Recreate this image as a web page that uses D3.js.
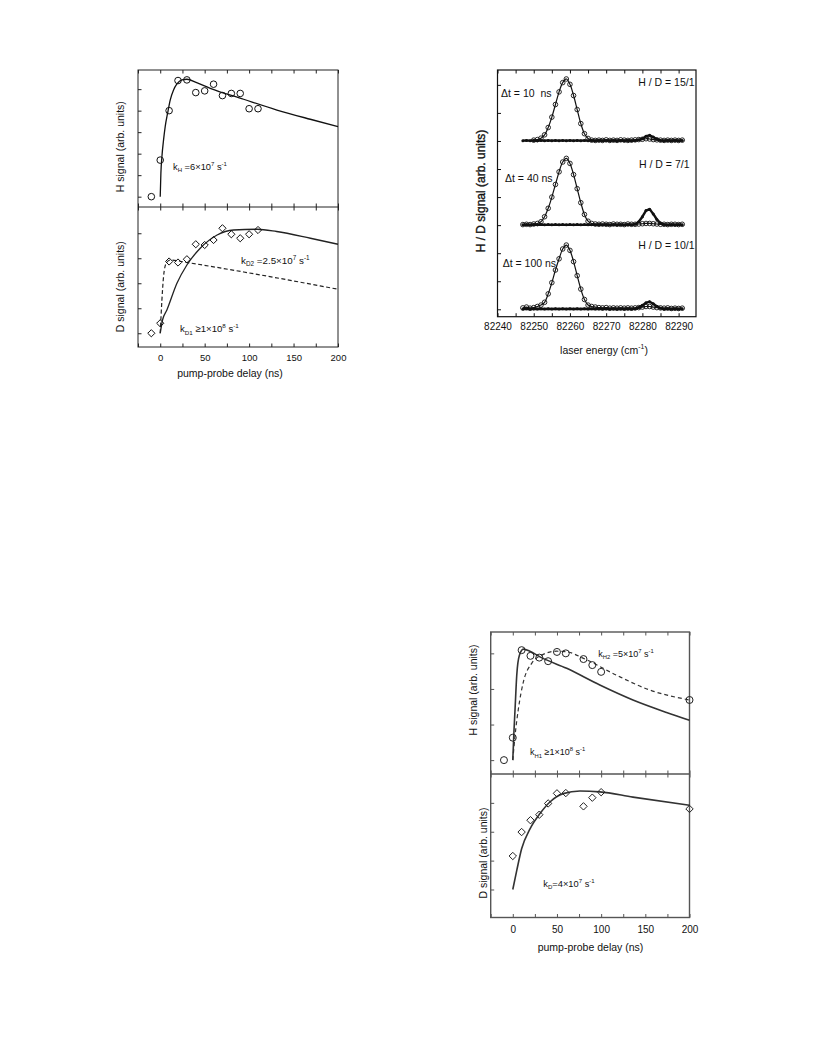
<!DOCTYPE html>
<html><head><meta charset="utf-8">
<script src="https://cdn.jsdelivr.net/npm/d3@7"></script>
<style>
body{margin:0;background:#fff}
svg{display:block}
text{font-family:"Liberation Sans",Arial,Helvetica,sans-serif;fill:#111}
</style>
</head><body>
<svg id="c" width="816" height="1056"></svg>
<script>
// ---------------- DATA ----------------
// Panel A (top-left): pump-probe delay scans
const delayTicks = [-25,0,25,50,75,100,125,150,175,200];
const delayLabels = [0,50,100,150,200];

const aHDelay  = [-10,0,10,20,30,40,50,60,70,80,90,100,110];
const aHSignal = [0,1.7,4.0,5.4,5.43,4.84,4.92,5.23,4.7,4.8,4.8,4.09,4.09];
const aHFitT   = [0,0.75,1.9,3.75,5.6,8.3,11.3,15,18.8,24.4,30,41,56.3,93.8,131.3,168.8,200];
const aHFitV   = [0,1.09,1.86,2.64,3.26,3.88,4.5,4.96,5.24,5.43,5.46,5.3,5.04,4.53,4.03,3.6,3.26];

const aDDelay  = [-10,0,10,20,30,40,50,60,70,80,90,100,110];
const aDSignal = [0,0.4,2.87,2.83,2.96,3.56,3.53,3.73,4.2,3.96,3.8,3.96,4.13];
const aDFitT   = [0,2.6,7.5,18.8,30,45,64,82.6,109,131,169,200];
const aDFitV   = [0,0.53,0.93,2.0,2.73,3.4,3.93,4.13,4.16,4.07,3.8,3.56];
const aDDashT  = [0,1.9,3.75,6.75,11.3,30,94,200];
const aDDashV  = [0,1.33,2.27,2.8,2.93,2.83,2.45,1.76];

// Panel B (top-right): laser energy scans
const energyTicks = [82240,82245,82250,82255,82260,82265,82270,82275,82280,82285,82290];
const energyLabels = [82240,82250,82260,82270,82280,82290];
const energy = [82247,82248,82249,82250,82251,82252,82253,82254,82255,82256,82257,82258,82259,82260,82261,82262,82263,82264,82265,82266,82267,82268,82269,82270,82271,82272,82273,82274,82275,82276,82277,82278,82279,82280,82281,82282,82283,82284,82285,82286,82287,82288,82289,82290,82291];
const h10 = [null,null,null,0.03,0.05,0.1,0.22,0.48,0.85,1.3,1.75,2.08,2.21,2.02,1.62,1.12,0.62,0.26,0.09,0.03,0.02,0.03,0.02,0.04,0.02,0.03,0.02,0.04,0.03,0.02,0.03,0.04,0.05,0.06,0.08,0.07,0.05,0.04,0.03,0.02,0.03,0.02,0.03,0.02,0.03];
const d10 = [0.01,0.02,0.01,0.02,0.01,0.02,0.01,0.02,0.01,0.02,0.01,0.02,0.01,0.02,0.01,0.02,0.01,0.02,0.01,0.02,0.01,0.02,0.01,0.02,0.01,0.02,0.01,0.02,0.01,0.02,0.01,0.02,0.04,0.08,0.17,0.2,0.14,0.06,0.02,0.01,0.02,0.01,0.02,0.01,0.02];
const h40 = [0.02,0.03,0.02,0.04,0.06,0.12,0.3,0.6,1.0,1.45,1.9,2.25,2.38,2.2,1.8,1.3,0.8,0.38,0.14,0.06,0.04,0.03,0.04,0.03,0.02,0.04,0.03,0.03,0.02,0.04,0.03,0.03,0.04,0.05,0.06,0.06,0.05,0.04,0.03,0.03,0.02,0.03,0.03,0.02,0.03];
const d40 = [0.01,0.02,0.01,0.02,0.01,0.02,0.01,0.02,0.01,0.02,0.01,0.02,0.01,0.02,0.01,0.02,0.01,0.02,0.01,0.02,0.01,0.02,0.01,0.02,0.01,0.02,0.01,0.02,0.01,0.02,0.01,0.03,0.12,0.3,0.52,0.57,0.4,0.2,0.07,0.02,0.01,0.02,0.01,0.02,0.01];
const h100 = [0.05,0.08,0.04,0.06,0.1,0.15,0.25,0.55,0.95,1.4,1.8,2.15,2.29,2.1,1.7,1.2,0.72,0.35,0.15,0.1,0.08,0.06,0.05,0.06,0.04,0.05,0.04,0.05,0.04,0.05,0.04,0.05,0.06,0.08,0.1,0.1,0.08,0.06,0.05,0.04,0.05,0.03,0.04,0.03,0.04];
const d100 = [0.01,0.02,0.01,0.02,0.01,0.02,0.01,0.02,0.01,0.02,0.01,0.02,0.01,0.02,0.01,0.02,0.01,0.02,0.01,0.02,0.01,0.02,0.01,0.02,0.01,0.02,0.01,0.02,0.01,0.02,0.01,0.02,0.06,0.14,0.23,0.27,0.2,0.1,0.04,0.01,0.02,0.01,0.02,0.01,0.02];
const traceOffsets = [6,3,0];
const traceDt = ["10  ns","40 ns","100 ns"];
const traceRatio = ["15/1","7/1","10/1"];

// Panel C (bottom-right)
const cHDelay  = [-10,0,10,20,30,40,50,60,80,90,100,200];
const cHSignal = [0,0.63,3.09,2.93,2.88,2.78,3.04,3.0,2.84,2.67,2.48,1.69];
const cHFitT   = [0,1.3,2.6,4.5,7.5,12,20,30.8,61,98.5,136,174,200];
const cHFitV   = [0,0.8,1.45,2.39,2.95,3.12,3.05,2.9,2.58,2.11,1.69,1.34,1.12];
const cHDashT  = [0,2.6,6.4,12,21.4,32.7,49.6,60,80,117,155,200];
const cHDashV  = [0,0.7,1.45,2.2,2.72,2.95,3.06,3.05,2.86,2.39,1.97,1.69];
const cDDelay  = [0,10,20,30,40,50,60,80,90,100,200];
const cDSignal = [1.16,1.99,2.4,2.59,2.98,3.33,3.34,2.88,3.18,3.37,2.79];
const cDFitT   = [0,4.5,10,19.5,30.8,42,57,76,98.5,136,200];
const cDFitV   = [0,0.66,1.41,2.1,2.63,3.03,3.32,3.41,3.38,3.2,2.92];

// ---------------- DRAWING ----------------
const svg = d3.select("#c");
const FONT = "Liberation Sans, Arial, Helvetica, sans-serif";

function styleAxis(g, color, fs){
  g.select(".domain").remove();
  g.attr("font-family", FONT).attr("font-size", fs || 10);
  g.selectAll(".tick line").attr("stroke", color).attr("stroke-width", 1);
  g.selectAll(".tick text").attr("fill", "#111");
}
function frame(x0,x1,y0,y1,color,w){
  svg.append("rect").attr("x",x0).attr("y",y0).attr("width",x1-x0).attr("height",y1-y0)
    .attr("fill","none").attr("stroke",color).attr("stroke-width",w);
}
function rich(x, y, parts, size, anchor){
  const t = svg.append("text").attr("x",x).attr("y",y).attr("font-size",size)
    .attr("text-anchor",anchor||"start");
  let cur = 0;
  parts.forEach(([s,m])=>{
    const target = m==="sub" ? size*0.3 : (m==="sup" ? -size*0.4 : 0);
    t.append("tspan").attr("dy", target-cur).attr("font-size", m ? size*0.65 : size).text(s);
    cur = target;
  });
  return t;
}
function vlabel(x, y, txt, size, heavy){
  const t = svg.append("text").attr("transform",`translate(${x},${y}) rotate(-90)`)
    .attr("text-anchor","middle").attr("dominant-baseline","central")
    .attr("font-size",size).text(txt);
  if (heavy) t.attr("stroke","#111").attr("stroke-width",0.35);
}
function circles(x,y,xs,ys,r,color,sw){
  svg.append("g").selectAll("circle").data(xs.map((d,i)=>[d,ys[i]]).filter(d=>d[1]!=null))
    .join("circle").attr("cx",d=>x(d[0])).attr("cy",d=>y(d[1])).attr("r",r)
    .attr("fill","none").attr("stroke",color).attr("stroke-width",sw);
}
function diamonds(x,y,xs,ys,s,color,sw){
  svg.append("g").selectAll("path").data(xs.map((d,i)=>[d,ys[i]]))
    .join("path").attr("transform",d=>`translate(${x(d[0])},${y(d[1])})`)
    .attr("d",`M0,${-s}L${s},0L0,${s}L${-s},0Z`)
    .attr("fill","none").attr("stroke",color).attr("stroke-width",sw);
}
function curve(x,y,xs,ys,color,sw,dash,cv){
  const line = d3.line().defined(d=>d[1]!=null).x(d=>x(d[0])).y(d=>y(d[1])).curve(cv||d3.curveMonotoneX);
  svg.append("path").datum(xs.map((d,i)=>[d,ys[i]])).attr("d",line)
    .attr("fill","none").attr("stroke",color).attr("stroke-width",sw)
    .attr("stroke-dasharray",dash||null).attr("stroke-linejoin","round");
}

// ===== Panel A =====
{
  const col = "#222";
  const x = d3.scaleLinear().domain([-25,200]).range([138,338]);
  const yH = d3.scaleLinear().domain([-0.48,5.89]).range([207,70]);
  const yD = d3.scaleLinear().domain([-0.55,5.05]).range([347,207]);
  const fmt = d => delayLabels.includes(d) ? d : "";
  styleAxis(svg.append("g").attr("transform","translate(0,70)")
    .call(d3.axisTop(x).tickValues(delayTicks).tickSizeInner(-3.5).tickSizeOuter(0).tickFormat("")), col);
  styleAxis(svg.append("g").attr("transform","translate(0,207)")
    .call(d3.axisBottom(x).tickValues(delayTicks).tickSizeInner(-3.5).tickSizeOuter(0).tickFormat("")), col);
  styleAxis(svg.append("g").attr("transform","translate(0,207)")
    .call(d3.axisTop(x).tickValues(delayTicks).tickSizeInner(-3.5).tickSizeOuter(0).tickFormat("")), col);
  styleAxis(svg.append("g").attr("transform","translate(0,347)")
    .call(d3.axisBottom(x).tickValues(delayTicks).tickSizeInner(-3.5).tickSizeOuter(0).tickPadding(7.5).tickFormat(fmt)), col, 9.5);
  styleAxis(svg.append("g").attr("transform","translate(138,0)")
    .call(d3.axisLeft(yH).tickValues([0,1,2,3,4,5]).tickSizeInner(-3.5).tickSizeOuter(0).tickFormat("")), col);
  styleAxis(svg.append("g").attr("transform","translate(138,0)")
    .call(d3.axisLeft(yD).tickValues([0,1,2,3,4]).tickSizeInner(-3.5).tickSizeOuter(0).tickFormat("")), col);
  frame(138,338,70,347,col,1);
  svg.append("line").attr("x1",138).attr("x2",338).attr("y1",207).attr("y2",207).attr("stroke",col).attr("stroke-width",1);

  curve(x,yH,aHFitT,aHFitV,"#111",1.3);
  circles(x,yH,aHDelay,aHSignal,3.3,"#111",1);
  curve(x,yD,aDFitT,aDFitV,"#222",1.3);
  curve(x,yD,aDDashT,aDDashV,"#222",1.2,"4,2.5");
  diamonds(x,yD,aDDelay,aDSignal,3.6,"#111",1);

  vlabel(120,146.7,"H signal (arb. units)",10.5);
  vlabel(120,286.7,"D signal (arb. units)",10.5);
  svg.append("text").attr("x",230).attr("y",377).attr("text-anchor","middle").attr("font-size",10.5).text("pump-probe delay (ns)");
  rich(173,169.5,[["k",""],["H","sub"],[" =6×10",""],["7","sup"],[" s",""],["-1","sup"]],9.3);
  rich(241,263.5,[["k",""],["D2","sub"],[" =2.5×10",""],["7","sup"],[" s",""],["-1","sup"]],9.8);
  rich(180,331.8,[["k",""],["D1","sub"],[" ≥1×10",""],["8","sup"],[" s",""],["-1","sup"]],9.6);
}

// ===== Panel B =====
{
  const col = "#111";
  const x = d3.scaleLinear().domain([82240,82294.8]).range([497.5,696]);
  const y = d3.scaleLinear().domain([-0.264,8.53]).range([316.7,70]);
  const fmt = d => energyLabels.includes(d) ? d3.format("d")(d) : "";
  styleAxis(svg.append("g").attr("transform","translate(0,70)")
    .call(d3.axisTop(x).tickValues(energyTicks).tickSizeInner(-3.5).tickSizeOuter(0).tickFormat("")), col);
  styleAxis(svg.append("g").attr("transform","translate(0,316.7)")
    .call(d3.axisBottom(x).tickValues(energyTicks).tickSizeInner(-3.5).tickSizeOuter(0).tickPadding(6).tickFormat(fmt)), col, 10);
  styleAxis(svg.append("g").attr("transform","translate(497.5,0)")
    .call(d3.axisLeft(y).tickValues([0,1,2,3,4,5,6,7,8]).tickSizeInner(-3.5).tickSizeOuter(0).tickFormat("")), col);
  frame(497.5,696,70,316.7,col,1.2);

  const traces = [[h10,d10],[h40,d40],[h100,d100]];
  traces.forEach(([h,d],k)=>{
    const off = traceOffsets[k];
    const hv = h.map(v=> v==null ? null : v+off);
    const dv = d.map(v=> v+off);
    curve(x,y,energy,dv,"#111",2.4,null,d3.curveLinear);
    svg.append("g").selectAll("circle").data(energy.map((e,i)=>[e,dv[i]])).join("circle")
      .attr("cx",p=>x(p[0])).attr("cy",p=>y(p[1])).attr("r",1.5).attr("fill","#111");
    curve(x,y,energy,hv,"#111",1.2,null,d3.curveCatmullRom);
    circles(x,y,energy,hv,2.3,"#111",0.9);
  });
  // annotations
  const dtY = [97, 181.5, 266.5], dtX = [501, 505, 502.7];
  const hdY = [85.5, 168.3, 249];
  traceDt.forEach((s,k)=>{
    svg.append("text").attr("x",dtX[k]).attr("y",dtY[k]).attr("font-size",10.5).attr("xml:space","preserve").text("Δt = "+s);
    svg.append("text").attr("x",k===1?689.5:694.5).attr("y",hdY[k]).attr("text-anchor","end").attr("font-size",10.5).text("H / D = "+traceRatio[k]);
  });
  vlabel(481,191,"H / D signal (arb. units)",12,true);
  rich(604,353.5,[["laser energy (cm",""],["-1","sup"],[")",""]],10.5,"middle");
}

// ===== Panel C =====
{
  const col = "#555";
  const x = d3.scaleLinear().domain([-25,200]).range([490.7,689.5]);
  const yH = d3.scaleLinear().domain([-0.39,3.6]).range([774,632]);
  const yD = d3.scaleLinear().domain([-0.97,4.0]).range([917.5,774]);
  const fmt = d => delayLabels.includes(d) ? d : "";
  styleAxis(svg.append("g").attr("transform","translate(0,632)")
    .call(d3.axisTop(x).tickValues(delayTicks).tickSizeInner(-3.5).tickSizeOuter(0).tickFormat("")), col);
  styleAxis(svg.append("g").attr("transform","translate(0,774)")
    .call(d3.axisBottom(x).tickValues(delayTicks).tickSizeInner(-3.5).tickSizeOuter(0).tickFormat("")), col);
  styleAxis(svg.append("g").attr("transform","translate(0,774)")
    .call(d3.axisTop(x).tickValues(delayTicks).tickSizeInner(-3.5).tickSizeOuter(0).tickFormat("")), col);
  styleAxis(svg.append("g").attr("transform","translate(0,917.5)")
    .call(d3.axisBottom(x).tickValues(delayTicks).tickSizeInner(-3.5).tickSizeOuter(0).tickPadding(8).tickFormat(fmt)), col, 10);
  styleAxis(svg.append("g").attr("transform","translate(490.7,0)")
    .call(d3.axisLeft(yH).tickValues([0,1,2,3]).tickSizeInner(-3.5).tickSizeOuter(0).tickFormat("")), col);
  styleAxis(svg.append("g").attr("transform","translate(490.7,0)")
    .call(d3.axisLeft(yD).tickValues([0,1,2,3]).tickSizeInner(-3.5).tickSizeOuter(0).tickFormat("")), col);
  frame(490.7,689.5,632,917.5,col,1.4);
  svg.append("line").attr("x1",490.7).attr("x2",689.5).attr("y1",774).attr("y2",774).attr("stroke",col).attr("stroke-width",1.4);

  curve(x,yH,cHFitT,cHFitV,"#333",1.6);
  curve(x,yH,cHDashT,cHDashV,"#333",1.2,"4,3");
  circles(x,yH,cHDelay,cHSignal,3.5,"#222",1);
  curve(x,yD,cDFitT,cDFitV,"#333",1.6);
  diamonds(x,yD,cDDelay,cDSignal,3.7,"#222",1);

  vlabel(473,690,"H signal (arb. units)",10.5);
  vlabel(483,853,"D signal (arb. units)",10.5);
  svg.append("text").attr("x",590.5).attr("y",950.5).attr("text-anchor","middle").attr("font-size",10.5).text("pump-probe delay (ns)");
  rich(598.3,656.5,[["k",""],["H2","sub"],[" =5×10",""],["7","sup"],[" s",""],["-1","sup"]],9);
  rich(530,755,[["k",""],["H1","sub"],[" ≥1×10",""],["8","sup"],[" s",""],["-1","sup"]],9);
  rich(543.3,886.5,[["k",""],["D","sub"],["=4×10",""],["7","sup"],[" s",""],["-1","sup"]],9.3);
}
</script>
</body></html>
